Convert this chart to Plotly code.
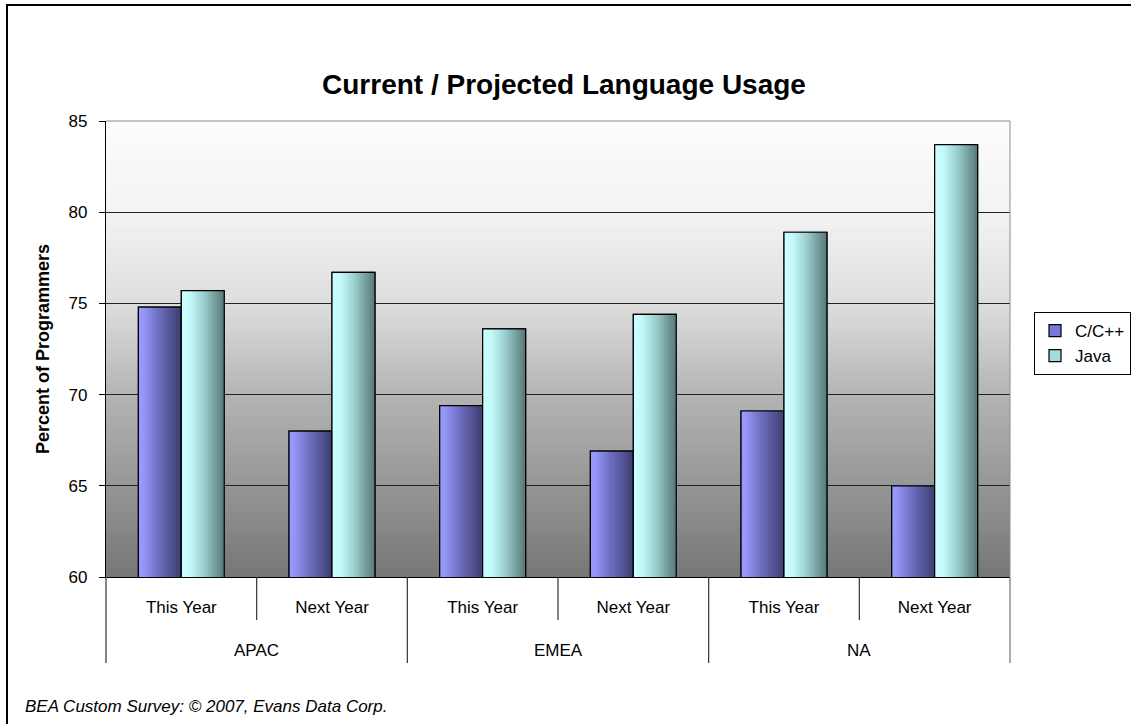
import numpy as np
import plotly.graph_objects as go

# ---- data -------------------------------------------------------------
regions = ["APAC", "EMEA", "NA"]
periods = ["This Year", "Next Year"]
cpp_pct = [74.8, 68.0, 69.4, 66.9, 69.1, 65.0]
java_pct = [75.7, 76.7, 73.6, 74.4, 78.9, 83.7]
y_ticks = [60, 65, 70, 75, 80, 85]

categories = [f"{r} | {p}" for r in regions for p in periods]
period_labels = [p for r in regions for p in periods]

# ---- geometry (pixels) -------------------------------------------------
W, H = 1131, 724
L, R, T, B = 106, 121, 121, 147
PW, PH = W - L - R, H - T - B
FONT = "Liberation Sans, Arial, sans-serif"


def px_x(x):
    return (x - L) / PW


def px_y(y):
    return (H - B - y) / PH


def ramp(stops, t):
    pos = [s[0] for s in stops]
    rgb = [np.interp(t, pos, [s[1][k] for s in stops]) for k in range(3)]
    return "rgb(%d,%d,%d)" % tuple(int(round(v)) for v in rgb)


BAR_W = 0.285
N_SLICES = 24

series = [
    dict(name="C/C++", values=cpp_pct, offset=-BAR_W, legend="rgb(120,120,215)",
         stops=[(0.0, (155, 155, 255)), (0.12, (150, 150, 248)),
                (0.45, (112, 112, 195)), (1.0, (62, 62, 112))]),
    dict(name="Java", values=java_pct, offset=0.0, legend="rgb(165,220,220)",
         stops=[(0.0, (204, 255, 255)), (0.2, (196, 250, 250)),
                (0.5, (160, 210, 210)), (0.8, (115, 155, 155)),
                (1.0, (88, 120, 120))]),
]

fig = go.Figure()

for s in series:
    # base bar: carries the legend entry
    fig.add_trace(go.Bar(
        x=categories, y=s["values"], name=s["name"], legendgroup=s["name"],
        width=BAR_W, offset=s["offset"],
        marker=dict(color=s["legend"], line=dict(color="black", width=1.2)),
        hoverinfo="skip",
    ))
    # horizontal shading: narrowing slices painted left to right
    for i in range(N_SLICES):
        start = s["offset"] + BAR_W * i / N_SLICES
        fig.add_trace(go.Bar(
            x=categories, y=s["values"], legendgroup=s["name"], showlegend=False,
            width=BAR_W * (N_SLICES - i) / N_SLICES, offset=start,
            marker=dict(color=ramp(s["stops"], (i + 0.5) / N_SLICES), line=dict(width=0)),
            hoverinfo="skip",
        ))
    # outline on top
    fig.add_trace(go.Bar(
        x=categories, y=s["values"], legendgroup=s["name"], showlegend=False,
        width=BAR_W, offset=s["offset"],
        marker=dict(color="rgba(0,0,0,0)", line=dict(color="black", width=1.2)),
        hovertemplate=s["name"] + ": %{y}<extra></extra>",
    ))

shapes = []

# plot-area background: vertical grey shading, light at top
bg_stops = [(0.0, (253, 253, 253)), (0.2, (243, 243, 243)), (0.4, (222, 222, 222)),
            (0.6, (180, 180, 180)), (0.8, (150, 150, 150)), (1.0, (118, 118, 118))]
N_BG = 150
for i in range(N_BG):
    shapes.append(dict(
        type="rect", xref="x domain", yref="y domain", layer="below",
        x0=0, x1=1, y0=0, y1=1 - i / N_BG,
        fillcolor=ramp(bg_stops, (i + 0.5) / N_BG), line=dict(width=0),
    ))

# thin grey frame on top and right of the plot area
shapes.append(dict(type="line", xref="x domain", yref="y domain", x0=0, x1=1, y0=1, y1=1,
                   line=dict(color="#8c8c8c", width=1)))
shapes.append(dict(type="line", xref="x domain", yref="y domain", x0=1, x1=1, y0=0, y1=1,
                   line=dict(color="#8c8c8c", width=1)))

# category dividers below the axis
n_cat = len(categories)
for k in range(n_cat + 1):
    outer = k % len(periods) == 0
    shapes.append(dict(
        type="line", xref="x domain", yref="paper",
        x0=k / n_cat, x1=k / n_cat, y0=px_y(577), y1=px_y(663 if outer else 620),
        line=dict(color="#333" if k != n_cat else "#777", width=1.2),
    ))

# outer chart border
shapes.append(dict(type="rect", xref="paper", yref="paper",
                   x0=px_x(7), x1=px_x(1145), y0=px_y(5), y1=px_y(740),
                   line=dict(color="black", width=2), fillcolor="rgba(0,0,0,0)"))

annotations = []
for g, r in enumerate(regions):
    annotations.append(dict(
        text=r, xref="x domain", yref="paper",
        x=(2 * g + 1) / (2 * len(regions)), y=px_y(650),
        xanchor="center", yanchor="middle", showarrow=False,
        font=dict(family=FONT, size=17, color="black"),
    ))
annotations.append(dict(
    text="<i>BEA Custom Survey: © 2007, Evans Data Corp.</i>",
    xref="paper", yref="paper", x=px_x(23), y=px_y(706),
    xanchor="left", yanchor="middle", showarrow=False,
    font=dict(family=FONT, size=17, color="black"),
))

fig.update_layout(
    width=W, height=H,
    margin=dict(l=L, r=R, t=T, b=B, autoexpand=False),
    paper_bgcolor="white", plot_bgcolor="rgba(0,0,0,0)",
    barmode="overlay",
    font=dict(family=FONT, size=17, color="black"),
    title=dict(text="Current / Projected Language Usage",
               font=dict(family=FONT, size=28, color="black", weight="bold"),
               xref="container", yref="container",
               x=564 / W, y=1 - 84 / H, xanchor="center", yanchor="middle"),
    xaxis=dict(type="category", tickvals=categories, ticktext=period_labels,
               showline=True, linecolor="black", linewidth=1.2, ticks="",
               showgrid=False, zeroline=False, ticklabelstandoff=14,
               tickfont=dict(family=FONT, size=17, color="black"), fixedrange=True),
    yaxis=dict(range=[60, 85], tickvals=y_ticks, ticks="outside", ticklen=6,
               tickcolor="black", showline=True, linecolor="black", linewidth=1.2,
               showgrid=True, gridcolor="#222", gridwidth=1, zeroline=False,
               ticklabelstandoff=8,
               tickfont=dict(family=FONT, size=17, color="black"),
               title=dict(text="Percent of Programmers", standoff=14,
                          font=dict(family=FONT, size=18, color="black", weight="bold")),
               fixedrange=True),
    legend=dict(x=px_x(1034), y=px_y(312), xanchor="left", yanchor="top",
                bgcolor="white", bordercolor="black", borderwidth=1,
                font=dict(family=FONT, size=17, color="black"),
                tracegroupgap=0, traceorder="normal"),
    shapes=shapes, annotations=annotations,
    showlegend=True,
)

fig.write_html("out.html")
